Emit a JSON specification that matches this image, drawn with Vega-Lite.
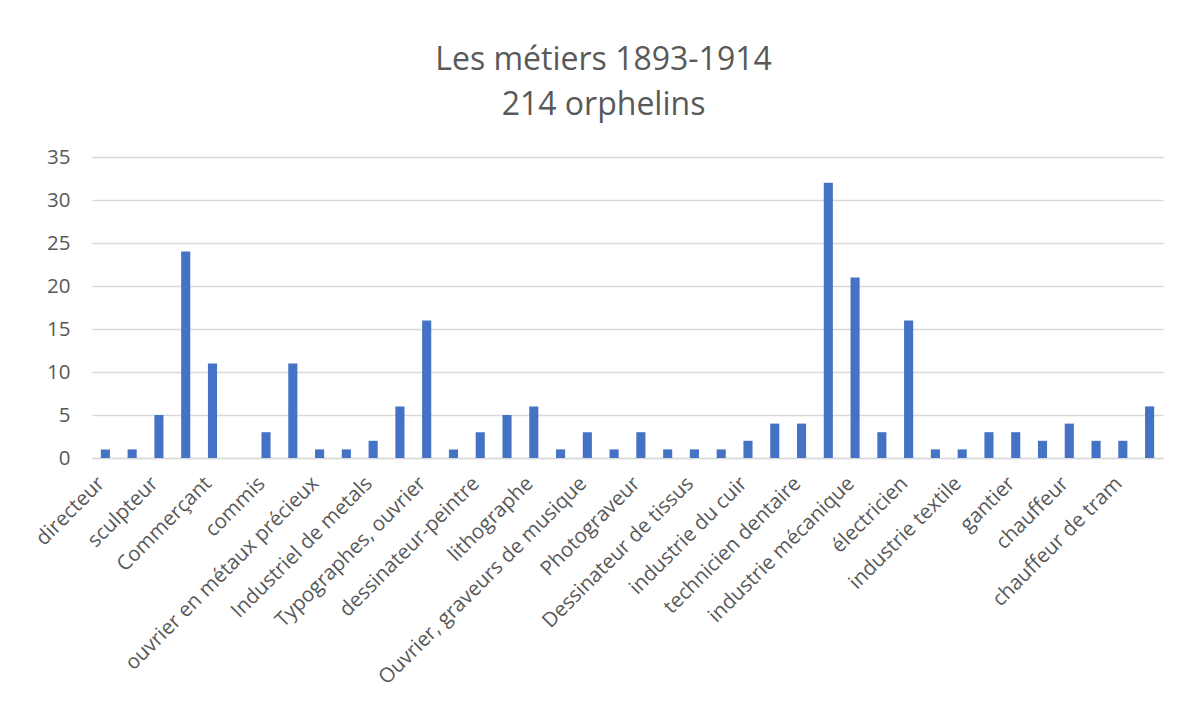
{
  "$schema": "https://vega.github.io/schema/vega-lite/v6.json",
  "autosize": {"type": "none"},
  "width": 1071,
  "height": 301,
  "padding": {"left": 92, "top": 157, "right": 26, "bottom": 253},
  "background": "white",
  "title": {
    "text": ["Les métiers 1893-1914", "214 orphelins"],
    "font": "Open Sans",
    "fontSize": 32,
    "fontWeight": "normal",
    "color": "#595959",
    "lineHeight": 45,
    "anchor": "middle",
    "dx": -24,
    "offset": 25
  },
  "data": {
    "values": [
      {"metier": "directeur", "n": 1, "ordre": 1},
      {"metier": "(2)", "n": 1, "ordre": 2},
      {"metier": "sculpteur", "n": 5, "ordre": 3},
      {"metier": "(4)", "n": 24, "ordre": 4},
      {"metier": "Commerçant", "n": 11, "ordre": 5},
      {"metier": "(6)", "n": 0, "ordre": 6},
      {"metier": "commis", "n": 3, "ordre": 7},
      {"metier": "(8)", "n": 11, "ordre": 8},
      {"metier": "ouvrier en métaux précieux", "n": 1, "ordre": 9},
      {"metier": "(10)", "n": 1, "ordre": 10},
      {"metier": "Industriel de metals", "n": 2, "ordre": 11},
      {"metier": "(12)", "n": 6, "ordre": 12},
      {"metier": "Typographes, ouvrier", "n": 16, "ordre": 13},
      {"metier": "(14)", "n": 1, "ordre": 14},
      {"metier": "dessinateur-peintre", "n": 3, "ordre": 15},
      {"metier": "(16)", "n": 5, "ordre": 16},
      {"metier": "lithographe", "n": 6, "ordre": 17},
      {"metier": "(18)", "n": 1, "ordre": 18},
      {"metier": "Ouvrier, graveurs de musique", "n": 3, "ordre": 19},
      {"metier": "(20)", "n": 1, "ordre": 20},
      {"metier": "Photograveur", "n": 3, "ordre": 21},
      {"metier": "(22)", "n": 1, "ordre": 22},
      {"metier": "Dessinateur de tissus", "n": 1, "ordre": 23},
      {"metier": "(24)", "n": 1, "ordre": 24},
      {"metier": "industrie du cuir", "n": 2, "ordre": 25},
      {"metier": "(26)", "n": 4, "ordre": 26},
      {"metier": "technicien dentaire", "n": 4, "ordre": 27},
      {"metier": "(28)", "n": 32, "ordre": 28},
      {"metier": "industrie mécanique", "n": 21, "ordre": 29},
      {"metier": "(30)", "n": 3, "ordre": 30},
      {"metier": "électricien", "n": 16, "ordre": 31},
      {"metier": "(32)", "n": 1, "ordre": 32},
      {"metier": "industrie textile", "n": 1, "ordre": 33},
      {"metier": "(34)", "n": 3, "ordre": 34},
      {"metier": "gantier", "n": 3, "ordre": 35},
      {"metier": "(36)", "n": 2, "ordre": 36},
      {"metier": "chauffeur", "n": 4, "ordre": 37},
      {"metier": "(38)", "n": 2, "ordre": 38},
      {"metier": "chauffeur de tram", "n": 2, "ordre": 39},
      {"metier": "(40)", "n": 6, "ordre": 40}
    ]
  },
  "mark": {"type": "bar", "color": "#4472C4"},
  "encoding": {
    "x": {
      "field": "metier",
      "type": "nominal",
      "sort": {"field": "ordre", "order": "ascending"},
      "scale": {"paddingInner": 0.66, "paddingOuter": 0.33},
      "axis": {
        "title": null,
        "values": ["directeur", "sculpteur", "Commerçant", "commis", "ouvrier en métaux précieux", "Industriel de metals", "Typographes, ouvrier", "dessinateur-peintre", "lithographe", "Ouvrier, graveurs de musique", "Photograveur", "Dessinateur de tissus", "industrie du cuir", "technicien dentaire", "industrie mécanique", "électricien", "industrie textile", "gantier", "chauffeur", "chauffeur de tram"],
        "labelAngle": -45,
        "labelAlign": "right",
        "labelBaseline": "middle",
        "labelPadding": 22,
        "labelOffset": -4,
        "labelFont": "Open Sans",
        "labelFontSize": 20.5,
        "labelColor": "#595959",
        "labelOverlap": false,
        "labelLimit": 0,
        "ticks": false,
        "domain": true,
        "domainColor": "#d9d9d9",
        "domainWidth": 1.5,
        "grid": false
      }
    },
    "y": {
      "field": "n",
      "type": "quantitative",
      "scale": {"domain": [0, 35], "nice": false},
      "axis": {
        "title": null,
        "values": [0, 5, 10, 15, 20, 25, 30, 35],
        "labelFont": "Open Sans",
        "labelFontSize": 20.5,
        "labelColor": "#595959",
        "labelPadding": 22,
        "ticks": false,
        "domain": false,
        "grid": true,
        "gridColor": "#d9d9d9",
        "gridWidth": 1.4
      }
    }
  },
  "config": {
    "view": {"stroke": null}
  }
}
